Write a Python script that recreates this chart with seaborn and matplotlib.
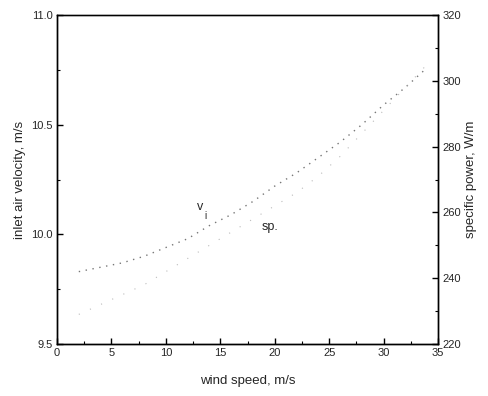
import matplotlib
matplotlib.use("Agg")
import matplotlib.pyplot as plt
import pandas as pd
import seaborn as sns
from matplotlib.ticker import FormatStrFormatter, MultipleLocator

# values
wind_speed = [2, 4, 6, 8, 10, 12, 14, 16, 18, 20, 22, 24, 26, 28, 30, 32, 34]
inlet_velocity = [9.83, 9.85, 9.87, 9.90, 9.94, 9.98, 10.04, 10.09, 10.15,
                  10.22, 10.28, 10.35, 10.42, 10.50, 10.59, 10.67, 10.76]
specific_power = [229, 232, 235, 238, 242, 246, 250, 254, 258,
                  262, 266, 271, 277, 284, 291, 298, 305]

df = pd.DataFrame({
    "wind": wind_speed,
    "v_i": inlet_velocity,
    "sp": specific_power,
})

sns.set_theme(style="ticks")
plt.rcParams["font.family"] = ["Liberation Sans", "DejaVu Sans"]

fig = plt.figure(figsize=(4.89, 3.96), dpi=100)
ax = fig.add_axes([0.1166, 0.1313, 0.7791, 0.8307])
ax2 = ax.twinx()

sns.lineplot(data=df, x="wind", y="v_i", ax=ax, color="#777777",
             linestyle=(0, (1, 4)), lw=1.0)
sns.lineplot(data=df, x="wind", y="sp", ax=ax2, color="#bbbbbb",
             linestyle=(0, (1, 10)), lw=0.8)

ax.set_xlim(0, 35)
ax.set_ylim(9.5, 11.0)
ax2.set_ylim(220, 320)

ax.xaxis.set_major_locator(MultipleLocator(5))
ax.xaxis.set_minor_locator(MultipleLocator(2.5))
ax.yaxis.set_major_locator(MultipleLocator(0.5))
ax.yaxis.set_minor_locator(MultipleLocator(0.25))
ax2.yaxis.set_major_locator(MultipleLocator(20))
ax2.yaxis.set_minor_locator(MultipleLocator(10))

for a in (ax, ax2):
    a.tick_params(which="major", direction="in", length=4, width=1,
                  labelsize=8, pad=3, color="black")
    a.tick_params(which="minor", direction="in", length=2, width=0.8,
                  color="black")
    for s in a.spines.values():
        s.set_linewidth(1.0)
        s.set_color("black")
ax.spines["top"].set_color("#444444")

ax.yaxis.set_major_formatter(FormatStrFormatter("%.1f"))

ax.set_xlabel("wind speed, m/s", fontsize=9.5, labelpad=12)
ax.set_ylabel("inlet air velocity, m/s", fontsize=9.5, labelpad=4)
ax2.set_ylabel("specific power, W/m", fontsize=9.5, labelpad=3)

ax.text(13.1, 10.11, "v", fontsize=9, ha="center")
ax.text(13.6, 10.07, "i", fontsize=7, ha="center")
ax.text(19.6, 10.02, "sp.", fontsize=9, ha="center")

fig.savefig("out.png", dpi=100)
